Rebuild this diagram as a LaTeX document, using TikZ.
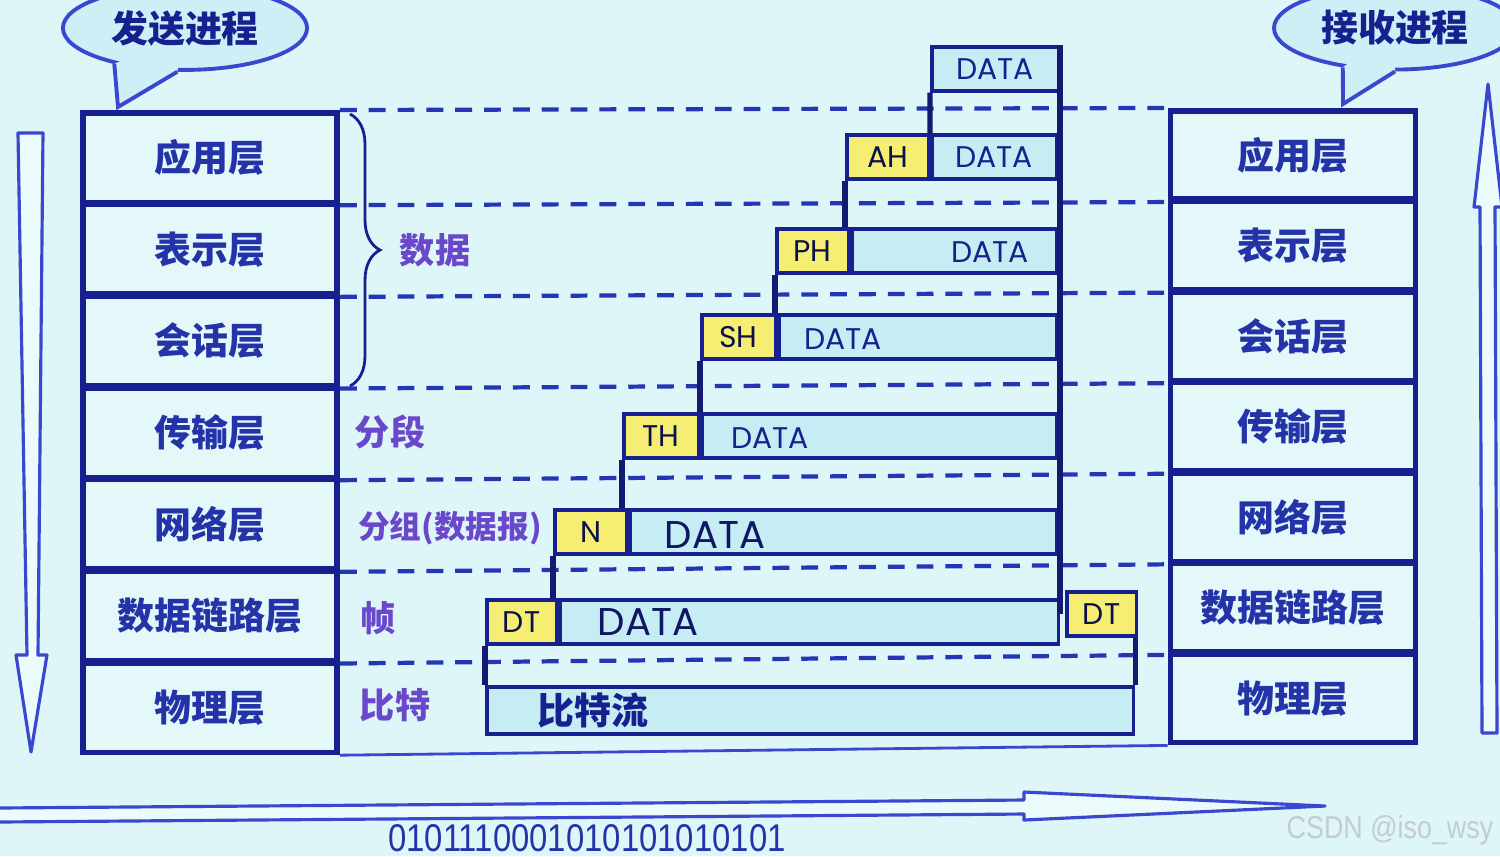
\documentclass[tikz,border=0pt]{standalone}
\usepackage{fontspec}
\setmainfont{Noto Sans CJK SC}
\newfontfamily\geofont{Poppins}
\newfontfamily\wmfont{Liberation Sans}
\usetikzlibrary{positioning,shapes.geometric,decorations.pathreplacing,calc}
\definecolor{bgcyan}{HTML}{DEF6F8}
\definecolor{navy}{HTML}{16208E}
\definecolor{dashblue}{HTML}{2436B4}
\definecolor{layerfill}{HTML}{E4F8FA}
\definecolor{layertext}{HTML}{2434A8}
\definecolor{tagpurple}{HTML}{6A48CC}
\definecolor{hdryellow}{HTML}{F6EE72}
\definecolor{stripfill}{HTML}{C6ECF4}
\definecolor{arrowblue}{HTML}{3A48D0}
\definecolor{bubblefill}{HTML}{CDEFF5}
\definecolor{wmgray}{HTML}{C4CCD0}

\begin{document}
\begin{tikzpicture}[x=0.01cm, y=-0.01cm,
    layer/.style={draw=navy, line width=1.6pt, fill=layerfill, text=layertext, minimum width=2.54cm, minimum height=0.895cm, font=\fontsize{10.5}{12}\selectfont\bfseries},
    rlayer/.style={layer, minimum width=2.45cm, minimum height=0.884cm},
    sep/.style={draw=dashblue, line width=1.2pt, dash pattern=on 4.8pt off 3.4pt},
    bubble/.style={ellipse, draw=arrowblue, line width=1.1pt, fill=bubblefill, text=navy, font=\fontsize{10.5}{12}\selectfont\bfseries},
    hdr/.style={draw=navy, line width=1pt, fill=hdryellow, minimum height=0.44cm, inner sep=0pt, text=navy!50!black, font=\geofont\fontsize{8.5}{10}\selectfont},
    strip/.style={draw=navy, line width=1pt, fill=stripfill, minimum height=0.44cm, inner sep=0pt},
    dtxt/.style={text=navy, font=\geofont\fontsize{8.5}{10}\selectfont},
    bigtxt/.style={text=navy!70!black, font=\geofont\fontsize{11}{12}\selectfont},
    tag/.style={text=tagpurple, font=\fontsize{10}{12}\selectfont\bfseries},
    link/.style={draw=navy!80!black, line width=1.5pt},
    hollow/.style={draw=arrowblue, line width=0.9pt, fill=bgcyan!60!white, line join=round}
]
\fill[bgcyan] (0,0) rectangle (1500,856);
\useasboundingbox (0,0) rectangle (1500,856);

% sending side
\node[layer] (sl1) at (210,157.6) {应用层};
\node[layer, below=-1pt of sl1] (sl2) {表示层};
\node[layer, below=-1pt of sl2] (sl3) {会话层};
\node[layer, below=-1pt of sl3] (sl4) {传输层};
\node[layer, below=-1pt of sl4] (sl5) {网络层};
\node[layer, below=-1pt of sl5] (sl6) {数据链路层};
\node[layer, below=-1pt of sl6] (sl7) {物理层};

% receiving side
\node[rlayer] (rl1) at (1293,155) {应用层};
\node[rlayer, below=-1pt of rl1] (rl2) {表示层};
\node[rlayer, below=-1pt of rl2] (rl3) {会话层};
\node[rlayer, below=-1pt of rl3] (rl4) {传输层};
\node[rlayer, below=-1pt of rl4] (rl5) {网络层};
\node[rlayer, below=-1pt of rl5] (rl6) {数据链路层};
\node[rlayer, below=-1pt of rl6] (rl7) {物理层};

\draw[sep] (sl1.north east) -- (rl1.north west);
\draw[sep] (sl1.south east) -- (rl1.south west);
\draw[sep] (sl2.south east) -- (rl2.south west);
\draw[sep] (sl3.south east) -- (rl3.south west);
\draw[sep] (sl4.south east) -- (rl4.south west);
\draw[sep] (sl5.south east) -- (rl5.south west);
\draw[sep] (sl6.south east) -- (rl6.south west);
\draw[draw=arrowblue, line width=0.8pt] (sl7.south east) -- (rl7.south west);

% speech bubbles
\node[bubble, minimum width=2.44cm, minimum height=0.6cm] (sendp) at (185,28) {发送进程};
\coordinate (sendtip) at (118,107);
\fill[bubblefill] (sendp.207) -- (sendtip) -- (sendp.260) -- ($(sendp.260)!0.25!(sendp.center)$) -- ($(sendp.207)!0.25!(sendp.center)$) -- cycle;
\draw[draw=arrowblue, line width=1.1pt] (sendp.207) -- (sendtip) -- (sendp.260);

\node[bubble, minimum width=2.1cm, minimum height=0.56cm] (recvp) at (1395,28) {接收进程};
\coordinate (recvtip) at (1343,104);
\fill[bubblefill] (recvp.217) -- (recvtip) -- (recvp.270) -- ($(recvp.270)!0.25!(recvp.center)$) -- ($(recvp.217)!0.25!(recvp.center)$) -- cycle;
\draw[draw=arrowblue, line width=1.1pt] (recvp.217) -- (recvtip) -- (recvp.270);

% encapsulation
\node[strip, dtxt, minimum width=1.265cm, anchor=north west] (d0) at (930,45) {DATA};
\node[hdr, minimum width=0.815cm, anchor=north west] (ah) at (845,133) {AH};
\node[strip, dtxt, minimum width=1.245cm, right=0pt of ah] (ahd) {DATA};
\node[hdr, minimum width=0.715cm, anchor=north west] (ph) at (775,227) {PH};
\node[strip, minimum width=2.045cm, right=0pt of ph] (phd) {};
\node[dtxt] (phdt) at (990,252) {DATA};
\node[hdr, minimum width=0.735cm, anchor=north west] (sh) at (700,313) {SH};
\node[strip, minimum width=2.775cm, right=0pt of sh] (shd) {};
\node[dtxt] (shdt) at (843,339) {DATA};
\node[hdr, minimum width=0.745cm, anchor=north west] (th) at (622,412) {TH};
\node[strip, minimum width=3.545cm, right=0pt of th] (thd) {};
\node[dtxt] (thdt) at (770,438) {DATA};
\node[hdr, minimum width=0.715cm, anchor=north west] (nh) at (553,508) {N};
\node[strip, minimum width=4.265cm, right=0pt of nh] (nd) {};
\node[bigtxt] (ndt) at (715,535) {DATA};
\node[hdr, minimum width=0.695cm, anchor=north west] (dt) at (485,598) {DT};
\node[strip, minimum width=4.985cm, right=0pt of dt] (dtd) {};
\node[bigtxt] (dtdt) at (648,622) {DATA};
\node[hdr, minimum width=0.695cm, anchor=north west] (dtr) at (1065,590) {DT};
\node[strip, minimum width=6.465cm, minimum height=0.47cm, anchor=north west] (bits) at (485,685) {};
\node[text=navy, font=\fontsize{10.5}{12}\selectfont\bfseries] (bitst) at (593,710) {比特流};

\draw[link] (d0.south west) -- (ahd.north west);
\draw[link] (ah.south west) -- (ah.south west |- phd.north);
\draw[link] (ph.south west) -- (ph.south west |- shd.north);
\draw[link] (sh.south west) -- (sh.south west |- thd.north);
\draw[link] (th.south west) -- (th.south west |- nd.north);
\draw[link] (nh.south west) -- (nh.south west |- dtd.north);
\draw[link] (dt.south west) -- (dt.south west |- bits.north);
\draw[link] (bits.north east |- dtr.south) -- (bits.north east);
\draw[link] (d0.north east) -- (d0.north east |- dtr.center);

% unit names
\draw[draw=navy, line width=0.8pt, decorate, decoration={brace, amplitude=0.3cm}] (350,114) -- (350,386);
\node[tag] (tdata) at (435,250) {数据};
\node[tag] (tseg) at (390,432) {分段};
\node[tag, font=\fontsize{9}{11}\selectfont\bfseries] (tpkt) at (450,528) {分组(数据报)};
\node[tag] (tframe) at (378,618) {帧};
\node[tag] (tbit) at (395,705) {比特};

% direction arrows
\draw[hollow] (18,133) -- (43,133) -- (38,655) -- (47,655) -- (31,752) -- (16,655) -- (27,655) -- cycle;
\draw[hollow] (1488,84) -- (1502,207) -- (1495,207) -- (1497,733) -- (1482,733) -- (1480,207) -- (1474,207) -- cycle;
\draw[hollow] (-2,808) -- (1024,800) -- (1024,792) -- (1325,806) -- (1024,820) -- (1024,814) -- (-2,822) -- cycle;

\node[text=layertext, font=\wmfont\fontsize{11}{12}\selectfont] (bitstr) at (587,838) {\scalebox{0.85}[1]{0101110001010101010101}};
\node[text=wmgray, font=\wmfont\fontsize{9}{10}\selectfont] (wm) at (1390,830) {\scalebox{0.85}[1]{CSDN @iso\_wsy}};
\end{tikzpicture}
\end{document}
